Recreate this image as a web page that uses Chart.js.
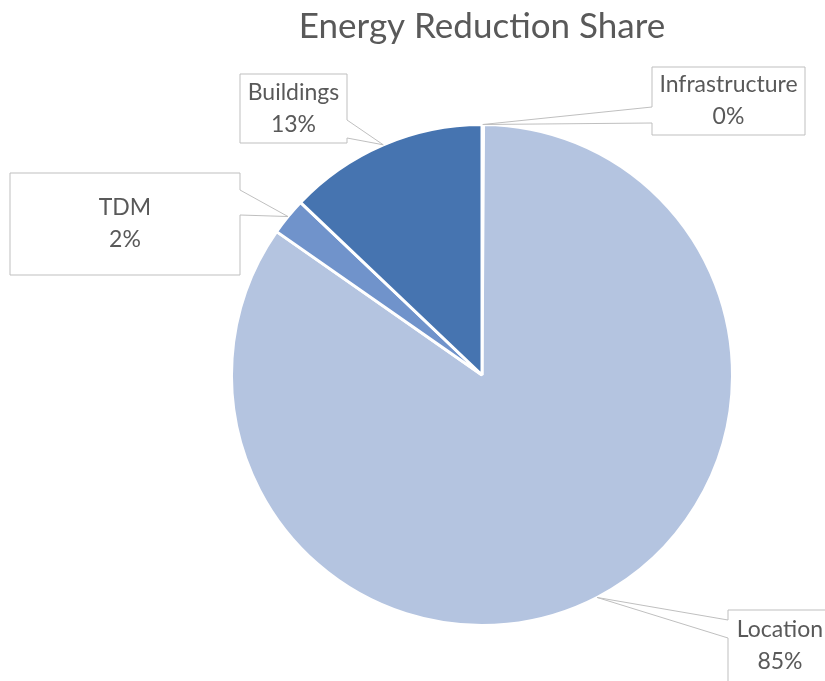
<!DOCTYPE html>
<html>
<head>
<meta charset="utf-8">
<script src="https://cdn.jsdelivr.net/npm/chart.js@4.4.1/dist/chart.umd.min.js"></script>
<style>
  html, body { margin: 0; padding: 0; background: #fff; }
  #wrap { width: 825px; height: 681px; }
</style>
</head>
<body>
<div id="wrap"><canvas id="pieChart" width="825" height="681"></canvas></div>
<script>
// Data
const categories = ['Infrastructure', 'Location', 'TDM', 'Buildings'];
const shares = [0.1, 84.6, 2.4, 12.9];

const sliceColors = ['#2F5597', '#B4C4E0', '#7093CB', '#4674B0'];

// callout boxes (label placement only), pointer base on one side of the box
const callouts = [
  { box: [652, 67, 153, 68], side: 'left', base: [107, 123] },
  { box: [728, 610, 104, 72], side: 'left', base: [620, 638] },
  { box: [10, 173, 230, 102], side: 'right', base: [190, 215] },
  { box: [240, 74, 107, 69], side: 'right', base: [120, 138] }
];

const textColor = '#595959';
const labelFont = '23px Lato';

function calloutPath(ctx, c, ax, ay) {
  const [x, y, w, h] = c.box;
  const [b1, b2] = c.base;
  ctx.beginPath();
  ctx.moveTo(x, y);
  ctx.lineTo(x + w, y);
  if (c.side === 'right') {
    ctx.lineTo(x + w, b1);
    ctx.lineTo(ax, ay);
    ctx.lineTo(x + w, b2);
  }
  ctx.lineTo(x + w, y + h);
  ctx.lineTo(x, y + h);
  if (c.side === 'left') {
    ctx.lineTo(x, b2);
    ctx.lineTo(ax, ay);
    ctx.lineTo(x, b1);
  }
  ctx.closePath();
}

const calloutPlugin = {
  id: 'callouts',
  afterDatasetsDraw(chart) {
    const ctx = chart.ctx;
    const meta = chart.getDatasetMeta(0);
    const total = shares.reduce((a, b) => a + b, 0);
    meta.data.forEach((arc, i) => {
      const p = arc.getProps(['x', 'y', 'startAngle', 'endAngle', 'outerRadius'], true);
      const mid = (p.startAngle + p.endAngle) / 2;
      const ax = p.x + Math.cos(mid) * p.outerRadius;
      const ay = p.y + Math.sin(mid) * p.outerRadius;
      const c = callouts[i];
      ctx.save();
      calloutPath(ctx, c, ax, ay);
      ctx.fillStyle = '#ffffff';
      ctx.fill();
      ctx.strokeStyle = '#BFBFBF';
      ctx.lineWidth = 1;
      ctx.stroke();

      const [x, y, w, h] = c.box;
      const cx = x + w / 2;
      const cy = y + h / 2;
      ctx.fillStyle = textColor;
      ctx.font = labelFont;
      ctx.textAlign = 'center';
      ctx.textBaseline = 'middle';
      ctx.fillText(categories[i], cx, cy - 16);
      ctx.fillText(Math.round(shares[i] / total * 100) + '%', cx, cy + 16);
      ctx.restore();
    });
  }
};

const ctxPie = document.getElementById('pieChart');

new Chart(ctxPie, {
  type: 'pie',
  data: {
    labels: categories,
    datasets: [{
      data: shares,
      backgroundColor: sliceColors,
      borderColor: '#ffffff',
      borderWidth: 3
    }]
  },
  options: {
    responsive: false,
    animation: false,
    layout: {
      padding: { left: 150, right: 11, top: 6, bottom: 54 }
    },
    plugins: {
      legend: { display: false },
      tooltip: { enabled: false },
      title: {
        display: true,
        text: 'Energy Reduction Share',
        color: textColor,
        font: { family: 'Lato', size: 35, weight: 'normal', lineHeight: 1.2 },
        padding: { top: 0, bottom: 75 }
      }
    }
  },
  plugins: [calloutPlugin]
});
</script>
</body>
</html>
